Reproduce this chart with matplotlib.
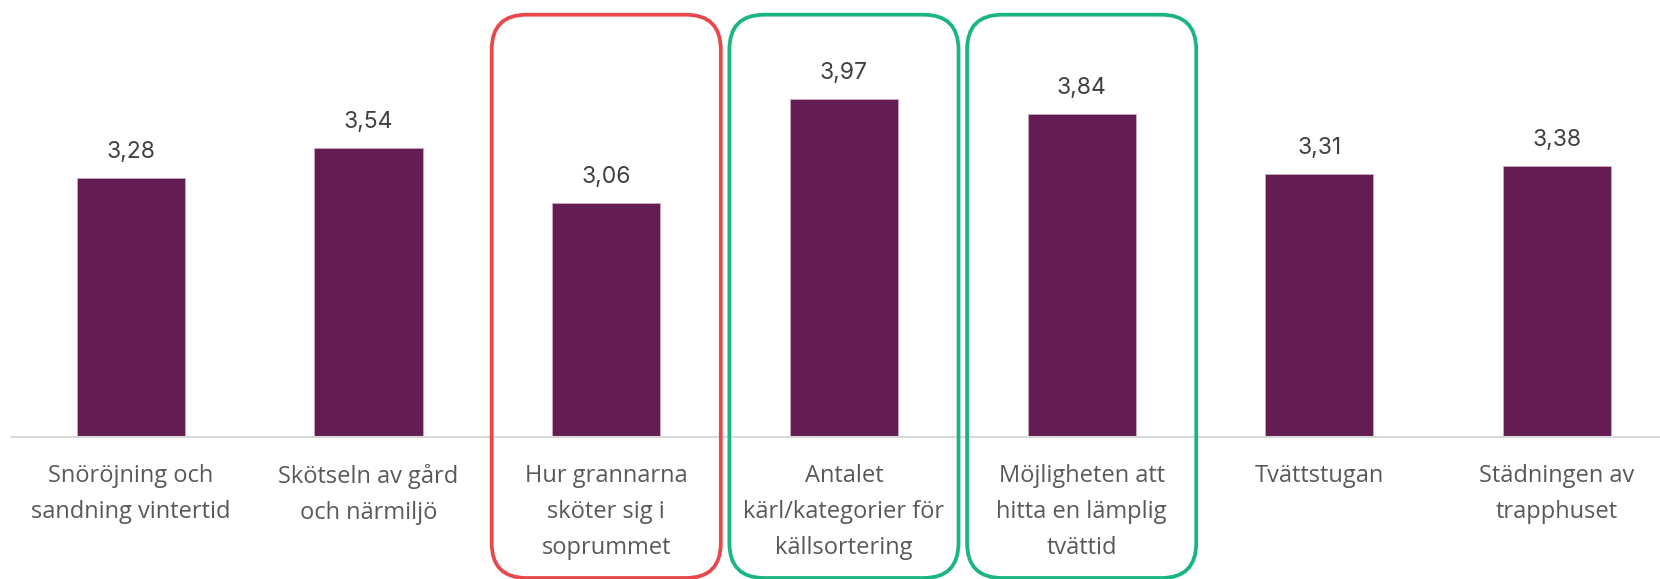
import matplotlib
matplotlib.use("Agg")
import matplotlib.pyplot as plt
from matplotlib.patches import FancyBboxPatch
from matplotlib.transforms import IdentityTransform

categories = [
    "Snöröjning och\nsandning vintertid",
    "Skötseln av gård\noch närmiljö",
    "Hur grannarna\nsköter sig i\nsoprummet",
    "Antalet\nkärl/kategorier för\nkällsortering",
    "Möjligheten att\nhitta en lämplig\ntvättid",
    "Tvättstugan",
    "Städningen av\ntrapphuset",
]
values = [3.28, 3.54, 3.06, 3.97, 3.84, 3.31, 3.38]
value_labels = ["3,28", "3,54", "3,06", "3,97", "3,84", "3,31", "3,38"]
red_boxes = [2]
green_boxes = [3, 4]

W, H = 1660, 579
fig = plt.figure(figsize=(W / 100, H / 100), dpi=100)
base_px = 436.7
ax = fig.add_axes([12 / W, (H - base_px) / H, (W - 12) / W, 431.7 / H])
x = list(range(len(values)))
ax.bar(x, values, width=0.455, bottom=0, color="#641C52", edgecolor="#C9A9C0", linewidth=0.6, zorder=2)
ax.set_ylim(1, 4.8)
ax.set_xlim(-0.5, -0.5 + (W - 12) / 237.7)
for s in ["top", "right", "left"]:
    ax.spines[s].set_visible(False)
ax.spines["bottom"].set_color("#D9D9D9")
ax.spines["bottom"].set_linewidth(1.5)
ax.set_yticks([])
ax.set_xticks(x)
ax.set_xticklabels(categories, fontsize=17, color="#595959", family="Open Sans", linespacing=1.68, va="top")
ax.tick_params(axis="x", length=0, pad=19.5)

for xi, v, lab in zip(x, values, value_labels):
    ax.annotate(lab, (xi, v), xytext=(0, 14.5), textcoords="offset points", ha="center", va="baseline",
                fontsize=16.5, color="#404040", family="Inter")

fig.canvas.draw()
half = 0.482
for idxs, col in [(red_boxes, "#E8474B"), (green_boxes, "#1AB581")]:
    for i in idxs:
        x0 = ax.transData.transform((i - half, 1))[0]
        x1 = ax.transData.transform((i + half, 1))[0]
        y0 = 1
        y1 = H - 14.7
        r = 35
        p = FancyBboxPatch((x0 + r, y0 + r), (x1 - x0) - 2 * r, (y1 - y0) - 2 * r,
                           boxstyle=f"round,pad={r},rounding_size={r}",
                           transform=IdentityTransform(), fill=False,
                           edgecolor=col, linewidth=2.7, zorder=5)
        fig.patches.append(p)

fig.savefig("out.png", dpi=100)
